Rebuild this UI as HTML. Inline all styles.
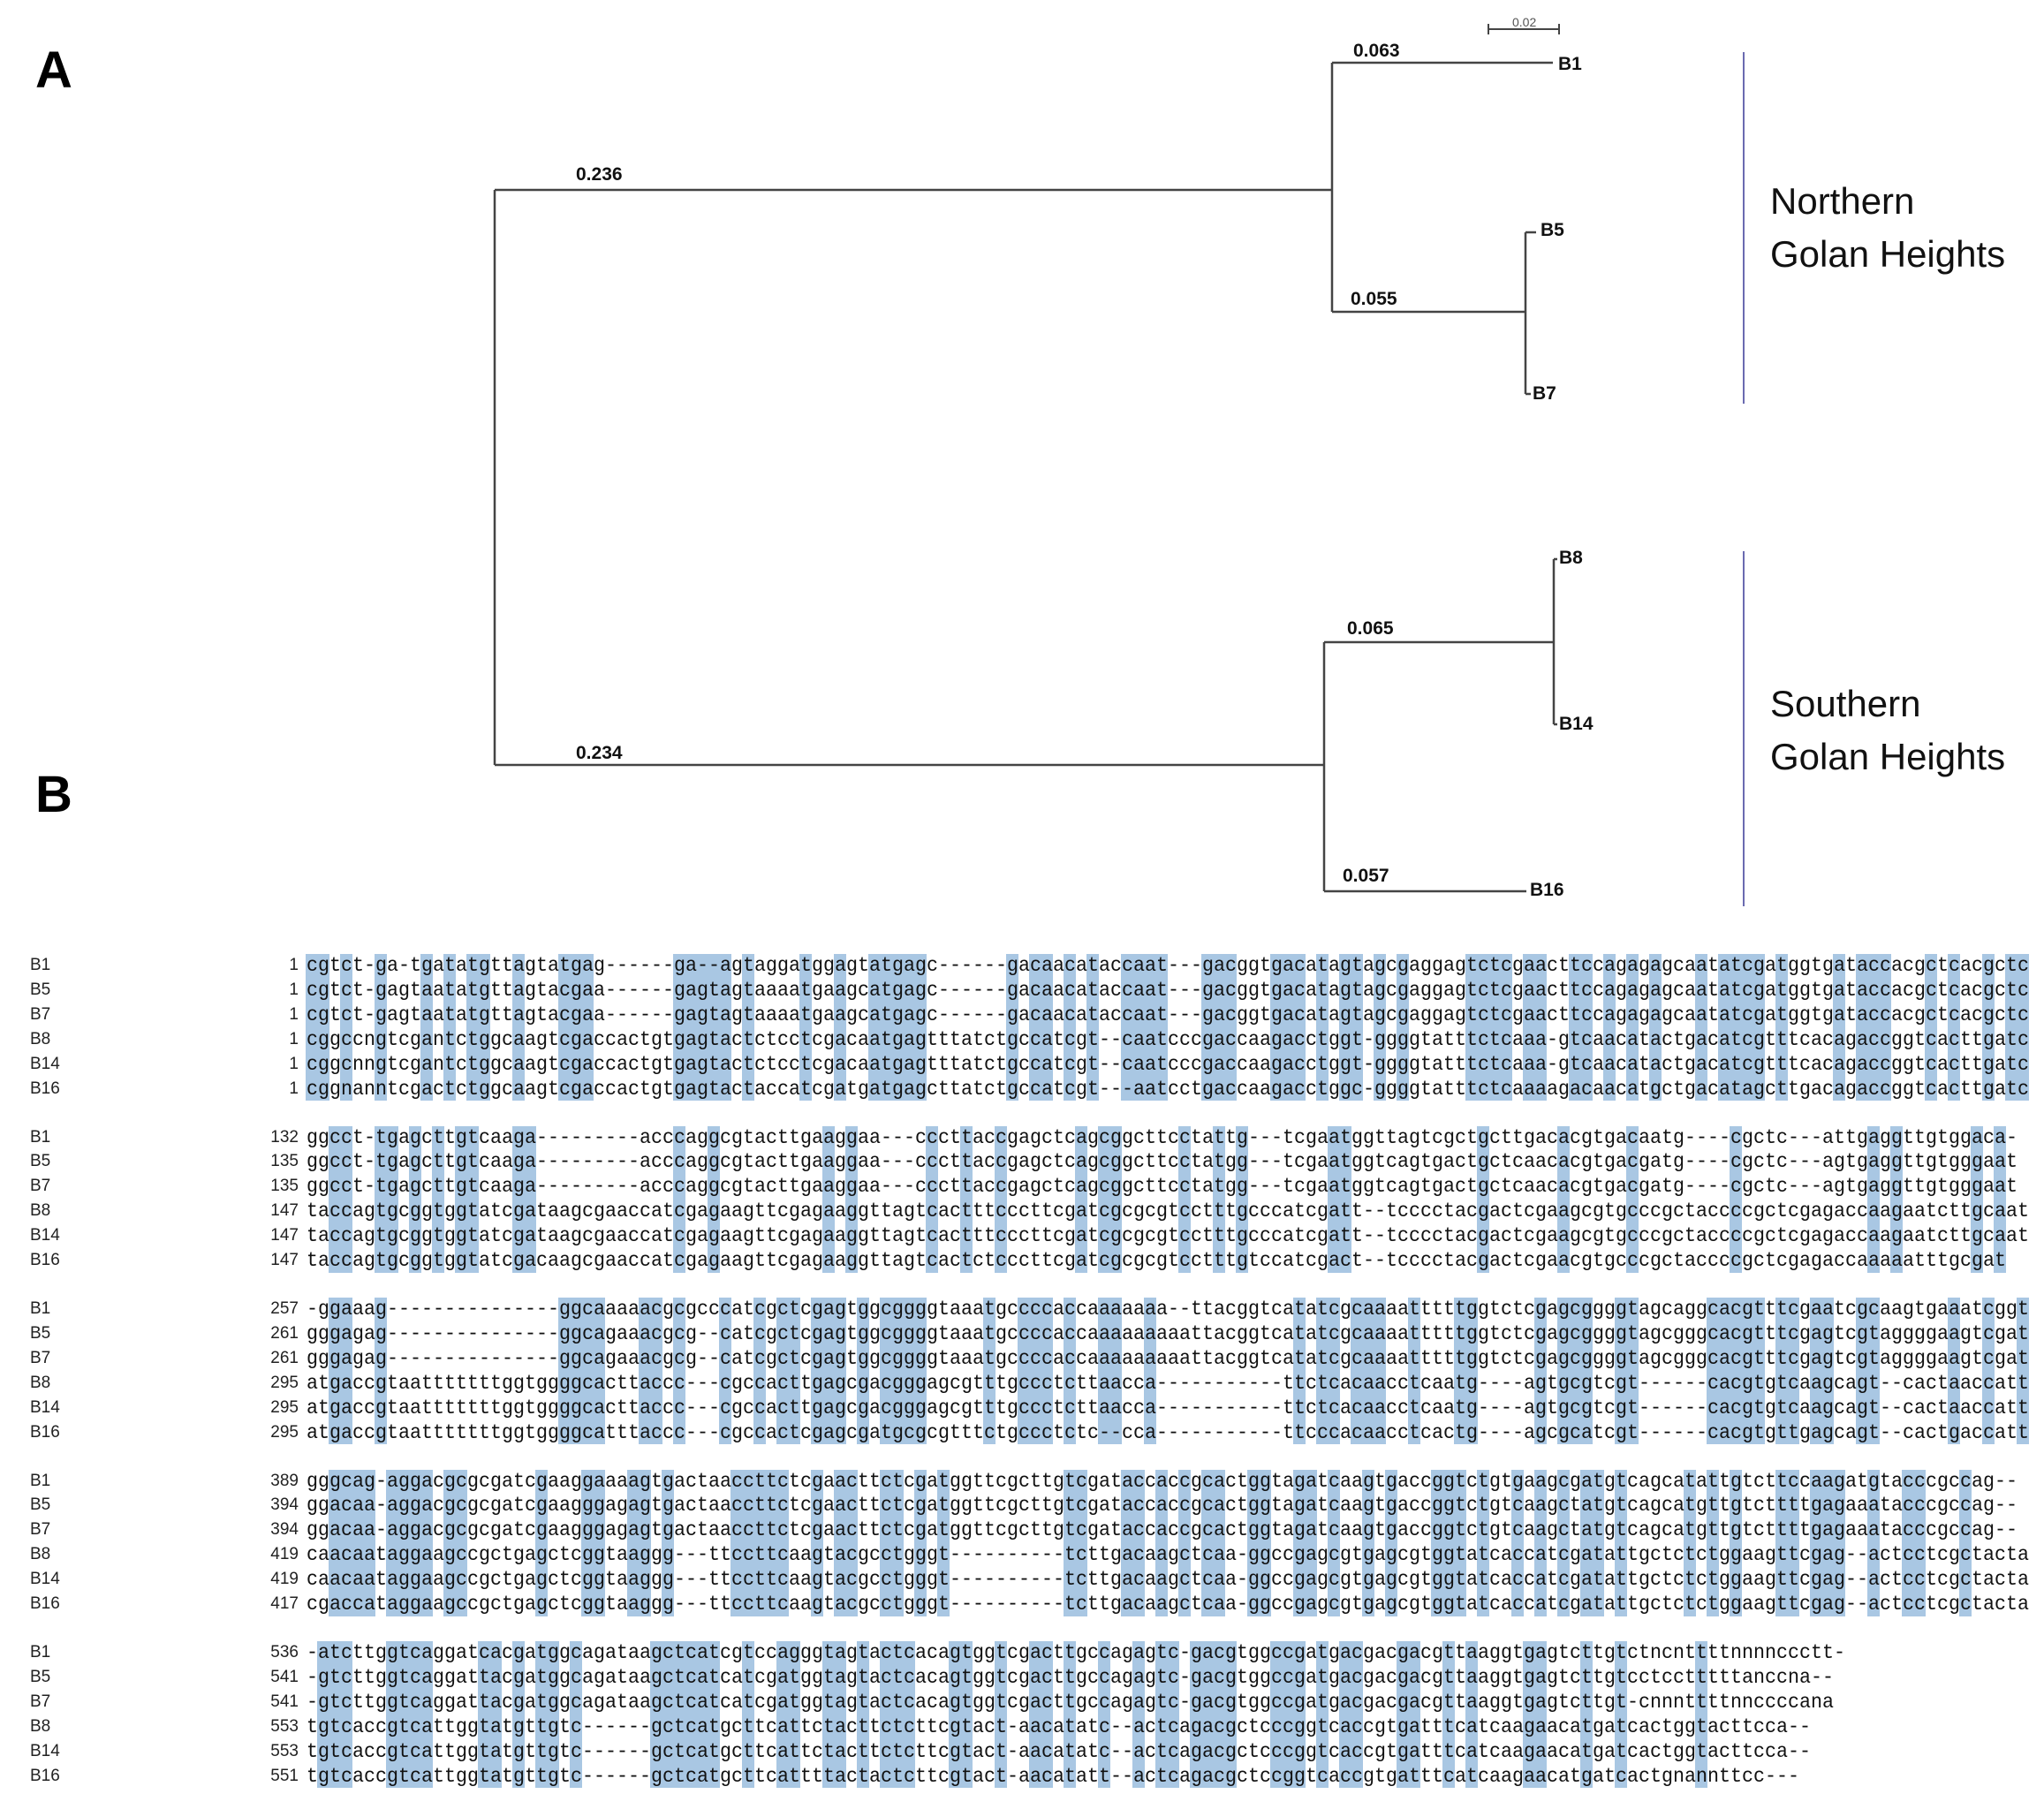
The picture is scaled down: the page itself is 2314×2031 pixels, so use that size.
<!DOCTYPE html>
<html><head><meta charset="utf-8">
<style>
html,body{margin:0;padding:0;background:#fff;}
body{width:2314px;height:2031px;position:relative;overflow:hidden;font-family:"Liberation Sans",sans-serif;}
.a{position:absolute;white-space:pre;}
.bl{font-weight:bold;font-size:21px;color:#111;}
.big{font-size:42px;color:#111;line-height:60px;font-family:"Liberation Sans",sans-serif;}
.seq{font-family:"Liberation Mono",monospace;font-size:23px;line-height:28px;color:#111;transform-origin:0 0;}
.nm{font-size:19px;line-height:28px;color:#222;}
.hl{position:absolute;background:#a9c7e3;}
</style></head><body>
<svg width="2314" height="1040" style="position:absolute;left:0;top:0" stroke="#444" stroke-width="2.5" fill="none">
<path d="M560 215V866M560 215H1508M1508 71V353M1508 71H1758M1508 353H1727M1727 263V446M1727 263H1739M1727 446H1733"/>
<path d="M560 866H1499M1499 727V1009M1499 727H1759M1759 633V820M1759 633H1763M1759 820H1763M1499 1009H1728"/>
<path d="M1685 33H1765M1685 27V39M1765 27V39" stroke-width="2"/>
<path d="M1974 59V457M1974 624V1026" stroke="#6a6ab0" stroke-width="2"/>
</svg>
<div class="a" style="left:1712px;top:17px;font-size:14px;color:#555">0.02</div>
<div class="a" style="left:40px;top:46px;font-size:58px;font-weight:bold">A</div>
<div class="a" style="left:40px;top:866px;font-size:58px;font-weight:bold">B</div>
<div class="a bl" style="left:652px;top:186px">0.236</div>
<div class="a bl" style="left:652px;top:841px">0.234</div>
<div class="a bl" style="left:1532px;top:46px">0.063</div>
<div class="a bl" style="left:1529px;top:327px">0.055</div>
<div class="a bl" style="left:1525px;top:700px">0.065</div>
<div class="a bl" style="left:1520px;top:980px">0.057</div>
<div class="a bl" style="left:1764px;top:61px">B1</div>
<div class="a bl" style="left:1744px;top:249px">B5</div>
<div class="a bl" style="left:1735px;top:434px">B7</div>
<div class="a bl" style="left:1765px;top:620px">B8</div>
<div class="a bl" style="left:1765px;top:808px">B14</div>
<div class="a bl" style="left:1732px;top:996px">B16</div>
<div class="a big" style="left:2004px;top:198px">Northern<br>Golan Heights</div>
<div class="a big" style="left:2004px;top:767px">Southern<br>Golan Heights</div>
<div id="aln"></div>
<script>
var names=["B1","B5","B7","B8","B14","B16"];
var blocks=[
[[1,1,1,1,1,1],[
"cgtct-ga-tgatatgttagtatgag------ga--agtaggatggagtatgagc------gacaacataccaat---gacggtgacatagtagcgaggagtctcgaacttccagagagcaatatcgatggtgataccacgctcacgctc",
"cgtct-gagtaatatgttagtacgaa------gagtagtaaaatgaagcatgagc------gacaacataccaat---gacggtgacatagtagcgaggagtctcgaacttccagagagcaatatcgatggtgataccacgctcacgctc",
"cgtct-gagtaatatgttagtacgaa------gagtagtaaaatgaagcatgagc------gacaacataccaat---gacggtgacatagtagcgaggagtctcgaacttccagagagcaatatcgatggtgataccacgctcacgctc",
"cggccngtcgantctggcaagtcgaccactgtgagtactctcctcgacaatgagtttatctgccatcgt--caatcccgaccaagacctggt-ggggtatttctcaaa-gtcaacatactgacatcgtttcacagaccggtcacttgatc",
"cggcnngtcgantctggcaagtcgaccactgtgagtactctcctcgacaatgagtttatctgccatcgt--caatcccgaccaagacctggt-ggggtatttctcaaa-gtcaacatactgacatcgtttcacagaccggtcacttgatc",
"cggnanntcgactctggcaagtcgaccactgtgagtactaccatcgatgatgagcttatctgccatcgt---aatcctgaccaagacctggc-ggggtatttctcaaaagacaacatgctgacatagcttgacagaccggtcacttgatc"]],
[[132,135,135,147,147,147],[
"ggcct-tgagcttgtcaaga---------acccaggcgtacttgaaggaa---cccttaccgagctcagcggcttcctattg---tcgaatggttagtcgctgcttgacacgtgacaatg----cgctc---attgaggttgtggaca-",
"ggcct-tgagcttgtcaaga---------acccaggcgtacttgaaggaa---cccttaccgagctcagcggcttcctatgg---tcgaatggtcagtgactgctcaacacgtgacgatg----cgctc---agtgaggttgtgggaat",
"ggcct-tgagcttgtcaaga---------acccaggcgtacttgaaggaa---cccttaccgagctcagcggcttcctatgg---tcgaatggtcagtgactgctcaacacgtgacgatg----cgctc---agtgaggttgtgggaat",
"taccagtgcggtggtatcgataagcgaaccatcgagaagttcgagaaggttagtcactttcccttcgatcgcgcgtcctttgcccatcgatt--tcccctacgactcgaagcgtgcccgctaccccgctcgagaccaagaatcttgcaat",
"taccagtgcggtggtatcgataagcgaaccatcgagaagttcgagaaggttagtcactttcccttcgatcgcgcgtcctttgcccatcgatt--tcccctacgactcgaagcgtgcccgctaccccgctcgagaccaagaatcttgcaat",
"taccagtgcggtggtatcgacaagcgaaccatcgagaagttcgagaaggttagtcactctcccttcgatcgcgcgtcctttgtccatcgact--tcccctacgactcgaacgtgcccgctaccccgctcgagaccaaaaatttgcgat"]],
[[257,261,261,295,295,295],[
"-ggaaag---------------ggcaaaaacgcgcccatcgctcgagtggcggggtaaatgccccaccaaaaaaa--ttacggtcatatcgcaaaatttttggtctcgagcggggtagcaggcacgtttcgaatcgcaagtgaaatcggt",
"gggagag---------------ggcagaaacgcg--catcgctcgagtggcggggtaaatgccccaccaaaaaaaaattacggtcatatcgcaaaatttttggtctcgagcggggtagcgggcacgtttcgagtcgtaggggaagtcgat",
"gggagag---------------ggcagaaacgcg--catcgctcgagtggcggggtaaatgccccaccaaaaaaaaattacggtcatatcgcaaaatttttggtctcgagcggggtagcgggcacgtttcgagtcgtaggggaagtcgat",
"atgaccgtaatttttttggtggggcacttaccc---cgccacttgagcgacgggagcgtttgccctcttaacca-----------ttctcacaacctcaatg----agtgcgtcgt------cacgtgtcaagcagt--cactaaccatt",
"atgaccgtaatttttttggtggggcacttaccc---cgccacttgagcgacgggagcgtttgccctcttaacca-----------ttctcacaacctcaatg----agtgcgtcgt------cacgtgtcaagcagt--cactaaccatt",
"atgaccgtaatttttttggtggggcatttaccc---cgccactcgagcgatgcgcgtttctgccctctc--cca-----------ttcccacaacctcactg----agcgcatcgt------cacgtgttgagcagt--cactgaccatt"]],
[[389,394,394,419,419,417],[
"gggcag-aggacgcgcgatcgaaggaaaagtgactaaccttctcgaacttctcgatggttcgcttgtcgataccaccgcactggtagatcaagtgaccggtctgtgaagcgatgtcagcatattgtcttccaagatgtacccgccag--",
"ggacaa-aggacgcgcgatcgaagggagagtgactaaccttctcgaacttctcgatggttcgcttgtcgataccaccgcactggtagatcaagtgaccggtctgtcaagctatgtcagcatgttgtcttttgagaaatacccgccag--",
"ggacaa-aggacgcgcgatcgaagggagagtgactaaccttctcgaacttctcgatggttcgcttgtcgataccaccgcactggtagatcaagtgaccggtctgtcaagctatgtcagcatgttgtcttttgagaaatacccgccag--",
"caacaataggaagccgctgagctcggtaaggg---ttccttcaagtacgcctgggt----------tcttgacaagctcaa-ggccgagcgtgagcgtggtatcaccatcgatattgctctctggaagttcgag--actcctcgctacta",
"caacaataggaagccgctgagctcggtaaggg---ttccttcaagtacgcctgggt----------tcttgacaagctcaa-ggccgagcgtgagcgtggtatcaccatcgatattgctctctggaagttcgag--actcctcgctacta",
"cgaccataggaagccgctgagctcggtaaggg---ttccttcaagtacgcctgggt----------tcttgacaagctcaa-ggccgagcgtgagcgtggtatcaccatcgatattgctctctggaagttcgag--actcctcgctacta"]],
[[536,541,541,553,553,551],[
"-atcttggtcaggatcacgatggcagataagctcatcgtccagggtagtactcacagtggtcgacttgccagagtc-gacgtggccgatgacgacgacgttaaggtgagtcttgtctncnttttnnnnccctt-",
"-gtcttggtcaggattacgatggcagataagctcatcatcgatggtagtactcacagtggtcgacttgccagagtc-gacgtggccgatgacgacgacgttaaggtgagtcttgtcctcctttttanccna--",
"-gtcttggtcaggattacgatggcagataagctcatcatcgatggtagtactcacagtggtcgacttgccagagtc-gacgtggccgatgacgacgacgttaaggtgagtcttgt-cnnnttttnnccccana",
"tgtcaccgtcattggtatgttgtc------gctcatgcttcattctacttctcttcgtact-aacatatc--actcagacgctcccggtcaccgtgatttcatcaagaacatgatcactggtacttcca--",
"tgtcaccgtcattggtatgttgtc------gctcatgcttcattctacttctcttcgtact-aacatatc--actcagacgctcccggtcaccgtgatttcatcaagaacatgatcactggtacttcca--",
"tgtcaccgtcattggtatgttgtc------gctcatgcttcattttactactcttcgtact-aacatatt--actcagacgctccggtcaccgtgatttcatcaagaacatgatcactgnannttcc---"]]
];
var x0=347,h="";
var cw=1950/blocks[0][1][1].length;
blocks.forEach(function(b,bi){
 var y0=1079+bi*194.5, s=b[1];
 var L=Math.min.apply(null,s.map(function(t){return t.length;}));
 for(var i=0;i<L;i++){var cnt={},mx=0;
  for(var r=0;r<6;r++){var c=s[r][i];if(c=='-'||c=='n')continue;cnt[c]=(cnt[c]||0)+1;if(cnt[c]>mx)mx=cnt[c];}
  if(mx>=5) h+='<div class="hl" style="left:'+(x0+i*cw-1)+'px;top:'+(y0+1)+'px;width:'+(cw+0.6)+'px;height:166px"></div>';}
 for(var r=0;r<6;r++){var y=y0+r*27.9;
  h+='<div class="a nm" style="left:34px;top:'+y+'px">'+names[r]+'</div>';
  h+='<div class="a nm" style="left:238px;width:100px;text-align:right;top:'+y+'px">'+b[0][r]+'</div>';
  h+='<div class="a seq" data-n="'+s[r].length+'" style="left:'+x0+'px;top:'+y+'px">'+s[r]+'</div>';}
});
document.getElementById("aln").innerHTML=h;
var els=document.querySelectorAll(".seq");
for(var k=0;k<els.length;k++){var e=els[k];var w=e.getBoundingClientRect().width;var n=+e.getAttribute("data-n");
 if(w>0) e.style.transform="scaleX("+(n*cw/w)+")";}
</script>
</body></html>
